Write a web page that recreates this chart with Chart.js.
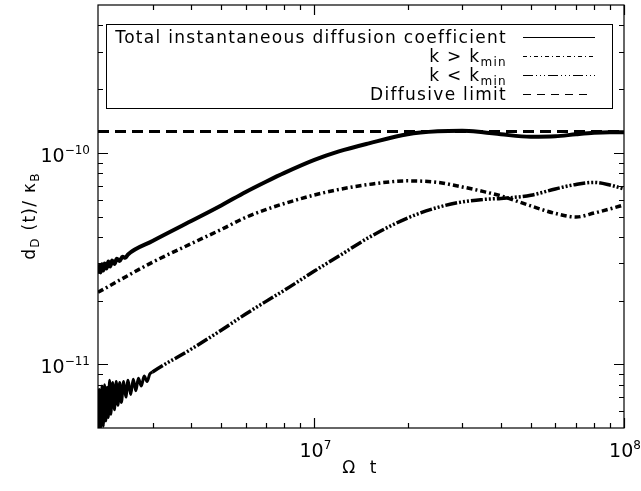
<!DOCTYPE html>
<html>
<head>
<meta charset="utf-8">
<script src="https://cdn.jsdelivr.net/npm/chart.js@4"></script>
<style>
html, body { margin: 0; padding: 0; background: #fff; }
#wrap { width: 641px; height: 491px; }
</style>
</head>
<body>
<div id="wrap"><canvas id="c" width="641" height="491"></canvas></div>
<script>
// times (Omega t) and values
const tTotal = [2.0e6, 2.02e6, 2.04e6, 2.06e6, 2.08e6, 2.1e6, 2.13e6, 2.16e6, 2.19e6, 2.22e6, 2.26e6, 2.3e6, 2.35e6,
    2.4e6, 2.45e6, 2.5e6, 3e6, 4e6, 5e6, 6e6, 7e6, 8e6,
    1e7, 1.2e7, 1.5e7, 2e7, 2.5e7, 3e7, 3.5e7, 4e7, 5e7, 6e7, 7e7, 8e7, 9e7, 1e8];
const total = [2.68e-11, 2.93e-11, 2.72e-11, 2.97e-11, 2.78e-11, 3.00e-11, 2.84e-11, 3.06e-11, 2.90e-11, 3.10e-11,
    2.98e-11, 3.16e-11, 3.08e-11, 3.23e-11, 3.19e-11, 3.31e-11,
    3.83e-11, 4.76e-11, 5.64e-11, 6.53e-11, 7.32e-11, 8.04e-11,
    9.26e-11, 1.016e-10, 1.109e-10, 1.224e-10, 1.264e-10, 1.272e-10, 1.251e-10, 1.224e-10, 1.191e-10, 1.197e-10,
    1.224e-10, 1.244e-10, 1.251e-10, 1.251e-10];

const tHigh = [2e6, 2.5e6, 3e6, 4e6, 5e6, 6e6, 7e6, 8e6, 1e7, 1.2e7, 1.5e7, 2e7, 2.5e7, 3e7, 3.5e7, 4e7, 5e7, 6e7, 7e7, 8e7, 9e7, 1e8];
const kHigh = [2.19e-11, 2.63e-11, 3.04e-11, 3.72e-11, 4.34e-11, 4.95e-11, 5.40e-11, 5.76e-11, 6.32e-11, 6.71e-11,
    7.09e-11, 7.37e-11, 7.25e-11, 6.90e-11, 6.57e-11, 6.26e-11, 5.61e-11, 5.17e-11, 4.97e-11, 5.19e-11, 5.43e-11, 5.67e-11];

const tLow = [2.0e6, 2.02e6, 2.04e6, 2.06e6, 2.08e6, 2.1e6, 2.12e6, 2.14e6, 2.16e6, 2.18e6, 2.2e6, 2.23e6, 2.26e6,
    2.29e6, 2.32e6, 2.35e6, 2.38e6, 2.42e6, 2.46e6, 2.5e6, 2.55e6, 2.6e6, 2.65e6, 2.7e6, 2.76e6, 2.82e6, 2.88e6, 2.94e6,
    3e6, 4e6, 5e6, 6e6, 7e6, 8e6, 1e7, 1.2e7, 1.5e7, 2e7, 2.5e7, 3e7, 3.5e7,
    4e7, 5e7, 6e7, 7e7, 8e7, 9e7, 1e8];
const kLow = [4.8e-12, 7.6e-12, 5.0e-12, 7.9e-12, 5.1e-12, 8.0e-12, 5.4e-12, 7.8e-12, 5.6e-12, 8.4e-12, 5.8e-12, 8.2e-12,
    6.1e-12, 8.3e-12, 6.4e-12, 8.2e-12, 6.6e-12, 8.3e-12, 7.0e-12, 8.4e-12, 7.2e-12, 8.5e-12, 7.5e-12, 8.6e-12, 7.9e-12,
    8.8e-12, 8.3e-12, 9.0e-12,
    9.2e-12, 1.18e-11, 1.45e-11, 1.73e-11, 1.99e-11, 2.24e-11, 2.76e-11,
    3.25e-11, 3.98e-11, 4.92e-11, 5.52e-11, 5.86e-11, 6.02e-11, 6.09e-11, 6.30e-11, 6.75e-11, 7.09e-11, 7.25e-11,
    7.05e-11, 6.75e-11];

const tLimit = [2e6, 1e8];
const limitVal = 1.26e-10;

const xMajor = [1e7, 1e8];
const xMinor = [3e6, 4e6, 5e6, 6e6, 7e6, 8e6, 9e6, 2e7, 3e7, 4e7, 5e7, 6e7, 7e7, 8e7, 9e7];
const yMajor = [1e-11, 1e-10];
const yMinor = [6e-12, 7e-12, 8e-12, 9e-12, 2e-11, 3e-11, 4e-11, 5e-11, 6e-11, 7e-11, 8e-11, 9e-11, 2e-10, 3e-10, 4e-10];
const xLabels = [[1e7, "7"], [1e8, "8"]];
const yLabels = [[1e-11, "\u221211"], [1e-10, "\u221210"]];

const FONT = '"DejaVu Sans", sans-serif';

function pairs(xs, ys) {
    return xs.map((x, i) => ({x: x, y: ys[i]}));
}

function drawSub(ctx, parts, x, y, align) {
    // parts: [text, isSub]
    const big = '17px ' + FONT, small = '12px ' + FONT;
    let w = 0;
    parts.forEach(p => { ctx.font = p[1] ? small : big; w += ctx.measureText(p[0]).width; });
    let cx = align === 'right' ? x - w : align === 'center' ? x - w / 2 : x;
    ctx.textAlign = 'left';
    parts.forEach(p => {
        ctx.font = p[1] ? small : big;
        ctx.fillText(p[0], cx, p[1] ? y + 4 : y);
        cx += ctx.measureText(p[0]).width;
    });
}

const decor = {
    id: 'decor',
    afterDraw(chart) {
        const ctx = chart.ctx, a = chart.chartArea;
        const xs = chart.scales.x, ys = chart.scales.y;
        ctx.save();
        ctx.strokeStyle = '#000';
        ctx.fillStyle = '#000';
        ctx.lineWidth = 1.2;
        ctx.setLineDash([]);
        ctx.strokeRect(a.left, a.top, a.right - a.left, a.bottom - a.top);

        ctx.beginPath();
        xMajor.concat(xMinor).forEach(v => {
            const px = Math.round(xs.getPixelForValue(v)) + 0.5;
            const len = xMajor.includes(v) ? 10 : 5;
            ctx.moveTo(px, a.bottom); ctx.lineTo(px, a.bottom - len);
            ctx.moveTo(px, a.top); ctx.lineTo(px, a.top + len);
        });
        yMajor.concat(yMinor).forEach(v => {
            const py = Math.round(ys.getPixelForValue(v)) + 0.5;
            const len = yMajor.includes(v) ? 10 : 5;
            ctx.moveTo(a.left, py); ctx.lineTo(a.left + len, py);
            ctx.moveTo(a.right, py); ctx.lineTo(a.right - len, py);
        });
        ctx.stroke();

        // tick labels
        ctx.textBaseline = 'alphabetic';
        yLabels.forEach(l => {
            const py = ys.getPixelForValue(l[0]);
            ctx.font = '12px ' + FONT;
            const ew = ctx.measureText(l[1]).width;
            ctx.textAlign = 'right';
            ctx.fillText(l[1], 90, py + 1);
            ctx.font = '19px ' + FONT;
            ctx.fillText('10', 90 - ew, py + 9);
        });
        xLabels.forEach(l => {
            const px = xs.getPixelForValue(l[0]);
            ctx.font = '19px ' + FONT;
            const bw = ctx.measureText('10').width;
            ctx.font = '12px ' + FONT;
            const ew = ctx.measureText(l[1]).width;
            const x0 = px - (bw + ew) / 2 + 1;
            ctx.textAlign = 'left';
            ctx.fillText(l[1], x0 + bw, 449);
            ctx.font = '19px ' + FONT;
            ctx.fillText('10', x0, 457);
        });

        // axis titles
        ctx.letterSpacing = '1.3px';
        ctx.font = '17px ' + FONT;
        ctx.textAlign = 'center';
        ctx.fillText('\u03A9  t', 360, 473);
        ctx.save();
        ctx.translate(35, 216);
        ctx.rotate(-Math.PI / 2);
        drawSub(ctx, [['d', false], ['D', true], [' (t)/ \u03BA', false], ['B', true]], 0, 0, 'center');
        ctx.restore();

        // legend
        ctx.lineWidth = 1;
        ctx.fillStyle = '#fff';
        ctx.fillRect(106, 24, 506, 84);
        ctx.strokeRect(106.5, 24.5, 506, 84);
        ctx.fillStyle = '#000';
        const rows = [
            {parts: [['Total instantaneous diffusion coefficient', false]], dash: []},
            {parts: [['k > k', false], ['min', true]], dash: [4, 3, 1, 3]},
            {parts: [['k < k', false], ['min', true]], dash: [10, 3, 1, 3, 1, 3, 1, 3]},
            {parts: [['Diffusive limit', false]], dash: [8, 6]}
        ];
        rows.forEach((r, i) => {
            const base = 43 + i * 19;
            drawSub(ctx, r.parts, 507, base, 'right');
            ctx.setLineDash(r.dash);
            ctx.beginPath();
            ctx.moveTo(523, base - 5.5);
            ctx.lineTo(r.dash.length === 2 ? 590 : 595, base - 5.5);
            ctx.stroke();
        });
        ctx.restore();
    }
};

new Chart(document.getElementById('c'), {
    type: 'line',
    data: {
        datasets: [
            {label: 'Diffusive limit', data: pairs(tLimit, [limitVal, limitVal]), borderColor: '#000',
                borderWidth: 3, borderDash: [11, 6], pointRadius: 0},
            {label: 'k < kmin', data: pairs(tLow, kLow), borderColor: '#000', borderWidth: 3.5,
                borderDash: [12, 2, 2, 2, 2, 2, 2, 2], pointRadius: 0, cubicInterpolationMode: 'monotone',
                segment: {borderDash: c => c.p1.parsed.x <= 3e6 ? [] : undefined,
                          borderWidth: c => c.p1.parsed.x <= 3e6 ? 3 : undefined}},
            {label: 'k > kmin', data: pairs(tHigh, kHigh), borderColor: '#000', borderWidth: 3.5,
                borderDash: [6, 3, 2, 3], pointRadius: 0, cubicInterpolationMode: 'monotone'},
            {label: 'Total instantaneous diffusion coefficient', data: pairs(tTotal, total), borderColor: '#000',
                borderWidth: 4, pointRadius: 0, cubicInterpolationMode: 'monotone'}
        ]
    },
    options: {
        responsive: false,
        animation: false,
        devicePixelRatio: 1,
        layout: {padding: {left: 98, right: 17, top: 5, bottom: 63}},
        plugins: {legend: {display: false}, tooltip: {enabled: false}},
        scales: {
            x: {type: 'logarithmic', min: 2e6, max: 1e8, display: false},
            y: {type: 'logarithmic', min: 5e-12, max: 5e-10, display: false}
        }
    },
    plugins: [decor]
});
</script>
</body>
</html>
